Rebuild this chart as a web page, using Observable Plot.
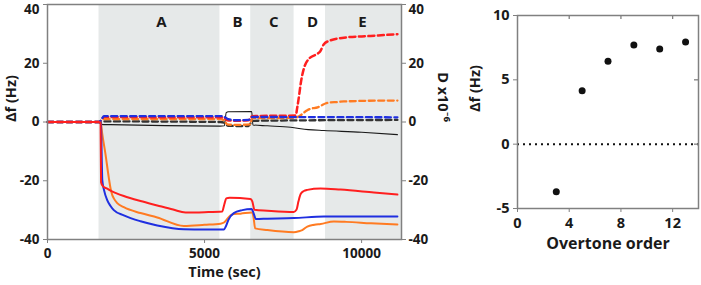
<!DOCTYPE html>
<html><head><meta charset="utf-8">
<script src="https://cdn.jsdelivr.net/npm/d3@7"></script>
<script src="https://cdn.jsdelivr.net/npm/@observablehq/plot@0.6"></script>
<style>
body{margin:0;background:#fff;}
#wrap{position:relative;width:701px;height:285px;overflow:hidden;background:#fff;}
#wrap svg{position:absolute;top:0;}
</style></head><body><div id="wrap"></div>
<script>
// ---------- data (left panel) ----------
const timeDomain = [0, 11270];
const dfDomain = [-40, 40];
const yTicksLeft = [-40, -20, 0, 20, 40];
const xTicksLeft = [0, 5000, 10000];
const regionNames = ["A", "B", "C", "D", "E"];
const regionLabelTime = [3630, 6050, 7200, 8440, 10030];
const shadedStart = [1640, 6470, 8850];
const shadedEnd = [5490, 7850, 11270];

// Δf (solid) series: [time (s), Δf (Hz)]
const dfRed = [[0,0],[1640,0],[1690,-0.5],[1705,-20.5],[1760,-21.8],[1900,-22.7],[2006,-23.4],[2200,-24.3],[2430,-25.2],[2960,-26.9],[3494,-28.4],[4000,-29.8],[4395,-30.8],[5000,-30.7],[5560,-30.5],[5630,-28],[5690,-26],[5800,-25.8],[6460,-26.2],[6520,-27],[6590,-29.9],[7000,-30.2],[7840,-30.6],[7930,-29.8],[7990,-27],[8060,-24.5],[8160,-23.5],[8270,-23.1],[8690,-22.6],[9330,-23],[10390,-24],[11140,-24.7]];
const dfBlue = [[0,0],[1640,0],[1700,-0.5],[1745,-19.9],[1800,-23.2],[1901,-26.6],[2006,-28.6],[2111,-30],[2430,-31.8],[2962,-33.8],[3494,-35.2],[4341,-36.5],[5000,-36.6],[5615,-36.6],[5680,-35.5],[5760,-33.3],[5930,-31],[6200,-30],[6500,-29.6],[6560,-31],[6630,-33],[7000,-32.9],[7840,-32.7],[8800,-32.2],[11140,-32.2]];
const dfOrange = [[0,0],[1640,0],[1700,-0.5],[1742,-4],[1847,-11],[1952,-19],[2006,-22.5],[2060,-24.8],[2111,-26],[2220,-27.6],[2430,-29],[2962,-31],[3494,-32.5],[4341,-35.4],[5000,-35],[5510,-34.6],[5620,-34.2],[5723,-33],[5830,-31.8],[5933,-31.3],[6146,-31.2],[6500,-30.8],[6560,-32.5],[6610,-36.2],[7000,-36.8],[7844,-37.5],[8000,-37.2],[8111,-36.8],[8271,-35.6],[8500,-35],[8700,-34.7],[9118,-33.9],[9500,-34],[10300,-34.5],[11140,-34.9]];
const dfBlack = [[0,0],[1640,0],[1700,-0.8],[2000,-0.9],[5500,-1.4],[5630,-1.3],[5690,3.2],[5760,3.5],[6500,3.6],[6540,-1],[7000,-1.3],[7740,-1.8],[8300,-2.6],[8800,-2.9],[10000,-3.5],[11140,-4.3]];
// D x10^-6 (dashed) series: [time (s), D]
const dRed = [[0,0],[1640,0],[1700,0.5],[1800,1.8],[2000,1.7],[5500,1.6],[5620,1.5],[5720,0.6],[6000,0.4],[6400,0.6],[6520,2],[7000,2.1],[7900,2.2],[7952,5],[8010,9],[8060,13],[8162,18.2],[8322,21.5],[8589,23.2],[8680,24],[8799,26.5],[8958,27.6],[9436,28.7],[10287,29.3],[11140,29.9]];
const dOrange = [[0,0],[1640,0],[1700,0.3],[1800,1],[5500,1],[5620,0.6],[5720,-0.8],[6000,-1],[6450,-0.8],[6520,1.3],[7850,1.4],[7952,1.7],[8060,2.3],[8162,3.2],[8271,4],[8376,4.5],[8600,5],[8750,5.8],[8850,6.3],[8958,6.6],[9226,6.8],[9436,7],[10923,7.3],[11140,7.3]];
const dBlue = [[0,0],[1640,0],[1700,0.5],[1800,2],[5500,2],[5620,1.8],[5750,1],[6000,0.6],[6400,0.7],[6520,1.7],[11140,1.6]];
const dBlack = [[0,0],[1640,0],[1700,0],[1800,0.2],[5500,0],[5620,-0.2],[5750,-1.3],[6400,-1.4],[6520,0.4],[11140,0.7]];

// ---------- data (right panel) ----------
const overtoneOrder = [3, 5, 7, 9, 11, 13];
const overtoneShift = [-3.7, 4.15, 6.45, 7.7, 7.4, 7.95];
const overtoneDomain = [0, 14];
const shiftDomain = [-5, 10];
const xTicksRight = [0, 4, 8, 12];
const yTicksRight = [-5, 0, 5, 10];
const zeroLine = [0];

// ---------- styling ----------
const font = "'Open Sans', Lato, sans-serif";
const gray = "#808080";
const txt = "#1a1a1a";
const cRed = "#ff1f1f", cOrange = "#ff7b22", cBlue = "#1f2fe0", cBlack = "#1a1a1a";

const rows = pts => pts.map(([t, v]) => ({t, v}));
const lineSpecs = [
  {data: dfBlack, color: cBlack, w: 1.1},
  {data: dBlack, color: "#333", w: 2.3, dash: "6,3.5"},
  {data: dOrange, color: cOrange, w: 2.3, dash: "6,3.5"},
  {data: dRed, color: cRed, w: 2.5, dash: "6,3.5"},
  {data: dBlue, color: cBlue, w: 2.3, dash: "6,3.5"},
  {data: dfOrange, color: cOrange, w: 2},
  {data: dfBlue, color: cBlue, w: 2},
  {data: dfRed, color: cRed, w: 2}
];
const bands = shadedStart.map((s, i) => ({s, e: shadedEnd[i]}));
const topMax = dfDomain[1];
const axisText = {fill: txt, fontSize: 13.5, fontWeight: 700, label: null, stroke: gray,
  tickFormat: d => (d === topMax ? "" : String(d))};
const lblStyle = {fontSize: 13.5, fontWeight: 700, fill: txt};

const left = Plot.plot({
  width: 460, height: 285,
  marginLeft: 47, marginRight: 59, marginTop: 4, marginBottom: 46,
  x: {domain: timeDomain},
  y: {domain: dfDomain},
  style: {fontFamily: font, background: "transparent"},
  marks: [
    Plot.tickX(xTicksLeft.slice(1), {stroke: gray, strokeWidth: 1.3, insetBottom: 231}),
    Plot.rect(bands, {x1: "s", x2: "e", fill: "#e6e9e9"}),
    ...lineSpecs.map(s => Plot.line(rows(s.data), {x: "t", y: "v", stroke: s.color, strokeWidth: s.w, strokeDasharray: s.dash, curve: "monotone-x"})),
    Plot.frame({stroke: gray, strokeWidth: 1.5}),
    Plot.axisY({...axisText, ticks: yTicksLeft, anchor: "left", tickSize: 4, tickPadding: 4}),
    Plot.axisY({...axisText, ticks: yTicksLeft, anchor: "right", tickSize: 4, tickPadding: 3}),
    Plot.text([topMax], {text: d => String(d), y: d => d, frameAnchor: "left", dx: -8, dy: 5, textAnchor: "end", ...lblStyle}),
    Plot.text([topMax], {text: d => String(d), y: d => d, frameAnchor: "right", dx: 7, dy: 5, textAnchor: "start", ...lblStyle}),
    Plot.axisX({...axisText, tickFormat: d => String(d), ticks: xTicksLeft, anchor: "bottom", tickSize: 4, tickPadding: 5}),
    Plot.text(regionNames, {text: d => d, x: (d, i) => regionLabelTime[i], frameAnchor: "top", dy: 12, fontSize: 15, fontWeight: 700, fill: txt}),
    Plot.text(["Time (sec)"], {text: d => d, frameAnchor: "bottom", dy: 37, fontSize: 14.5, fontWeight: 700, fill: txt}),
    Plot.text(["Δf (Hz)"], {text: d => d, frameAnchor: "left", dx: -36, rotate: -90, fontSize: 14.5, fontWeight: 700, fill: txt}),
    Plot.text(["D x10⁻⁶"], {text: d => d, frameAnchor: "right", dx: 41, rotate: 90, fontSize: 14.5, fontWeight: 700, fill: txt})
  ]
});

const shiftRows = overtoneOrder.map((n, i) => ({n, df: overtoneShift[i]}));
const axisText2 = {fill: txt, fontSize: 14.5, fontWeight: 700, label: null, stroke: gray, tickFormat: d => String(d)};
const right = Plot.plot({
  width: 241, height: 285,
  marginLeft: 57, marginRight: 3, marginTop: 15, marginBottom: 77,
  x: {domain: overtoneDomain},
  y: {domain: shiftDomain},
  style: {fontFamily: font, background: "transparent"},
  marks: [
    Plot.ruleY(zeroLine, {stroke: "#111", strokeWidth: 2, strokeDasharray: "2,4"}),
    Plot.tickX(xTicksRight.slice(1), {stroke: gray, strokeWidth: 1.3, insetBottom: 189}),
    Plot.tickY(yTicksRight.slice(1, 3), {stroke: gray, strokeWidth: 1.3, insetLeft: 177}),
    Plot.frame({stroke: gray, strokeWidth: 1.5}),
    Plot.dot(shiftRows, {x: "n", y: "df", r: 3.5, fill: "#111", stroke: "none"}),
    Plot.axisY({...axisText2, ticks: yTicksRight, anchor: "left", tickSize: 4, tickPadding: 4}),
    Plot.axisX({...axisText2, ticks: xTicksRight, anchor: "bottom", tickSize: 4, tickPadding: 5}),
    Plot.text(["Overtone order"], {text: d => d, frameAnchor: "bottom", dy: 40, fontSize: 16, fontWeight: 700, fill: txt}),
    Plot.text(["Δf (Hz)"], {text: d => d, frameAnchor: "left", dx: -42, rotate: -90, fontSize: 14.5, fontWeight: 700, fill: txt})
  ]
});

const wrap = document.getElementById("wrap");
left.style.left = "0px";
right.style.left = "460px";
wrap.appendChild(left);
wrap.appendChild(right);
</script>
</body></html>
